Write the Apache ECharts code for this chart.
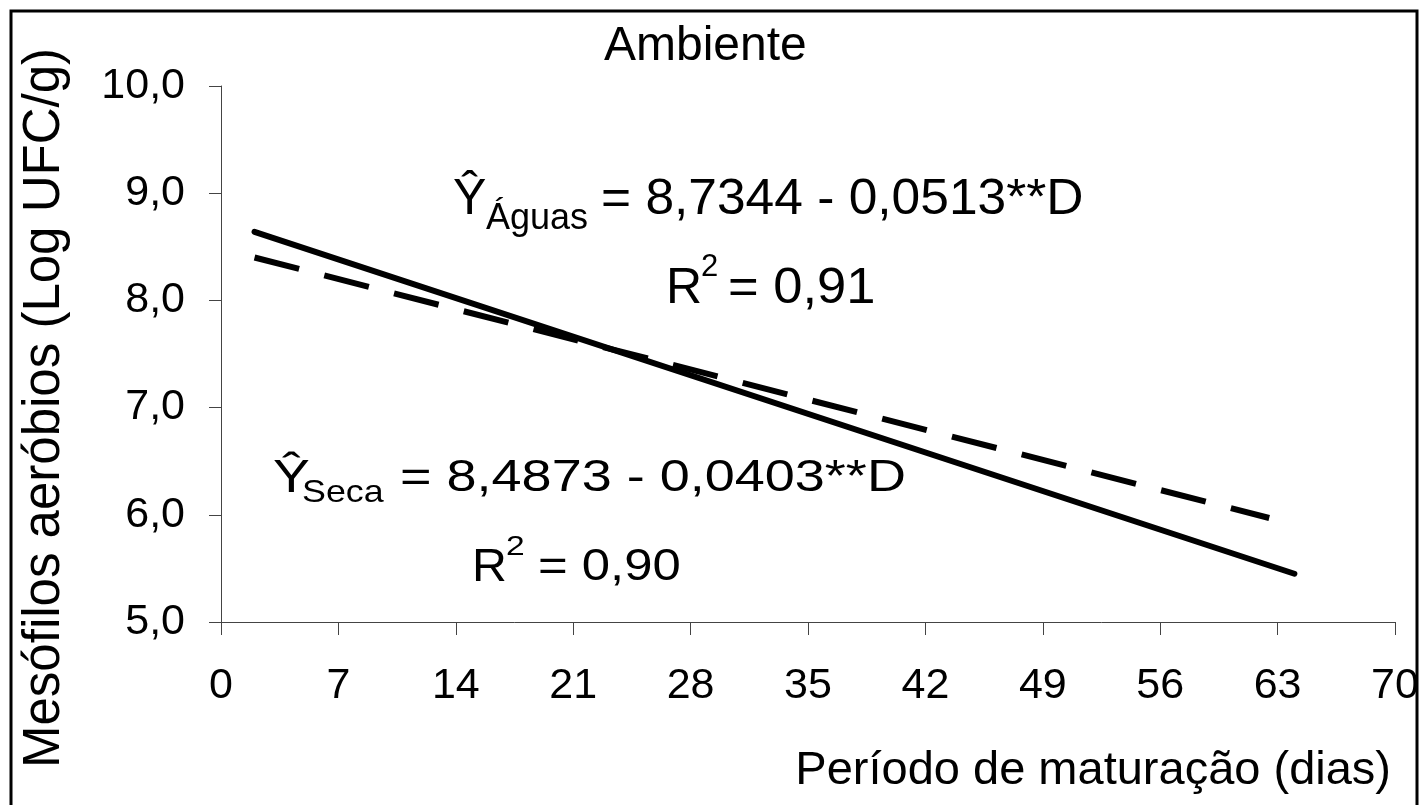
<!DOCTYPE html>
<html>
<head>
<meta charset="utf-8">
<script src="https://cdn.jsdelivr.net/npm/echarts@6/dist/echarts.min.js"></script>
<style>
html,body{margin:0;padding:0;background:#fff;}
#chart{width:1424px;height:805px;}
</style>
</head>
<body>
<div id="chart"></div>
<script>
// Data
const xTicks = [0, 7, 14, 21, 28, 35, 42, 49, 56, 63, 70];
const aguasDays = [2, 64];
const aguasValues = [8.64, 5.45];
const secaDays = [2, 62.5];
const secaValues = [8.40, 5.97];

const titleText = 'Ambiente';
const xName = 'Período de maturação (dias)';
const yName = 'Mesófilos aeróbios (Log UFC/g)';
const eqAguas = ['Ŷ', 'Águas', '= 8,7344 - 0,0513**D'];
const r2Aguas = ['R', '2', '= 0,91'];
const eqSeca = ['Ŷ', 'Seca', '= 8,4873 - 0,0403**D'];
const r2Seca = ['R', '2', '= 0,90'];

const FONT = 'Arial, "Liberation Sans", sans-serif';
const chart = echarts.init(document.getElementById('chart'), null, {renderer: 'canvas'});

function txt(x, y, text, size, opts) {
  opts = opts || {};
  return {
    type: 'text', x: x, y: y, z: 10,
    scaleX: opts.scaleX || 1,
    rotation: opts.rotation || 0,
    style: {
      text: text,
      font: size + 'px ' + FONT,
      fill: '#000',
      textAlign: opts.align || 'left',
      textVerticalAlign: 'middle'
    }
  };
}

function pair(days, vals) { return days.map((d, i) => [d, vals[i]]); }

const option = {
  backgroundColor: '#fff',
  animation: false,
  grid: {left: 221, right: 29, top: 86, bottom: 183, containLabel: false},
  xAxis: {
    type: 'value', min: 0, max: 70, interval: 7,
    axisLine: {show: true, onZero: false, lineStyle: {color: '#444', width: 1}},
    axisTick: {show: true, length: 13, lineStyle: {color: '#444', width: 1}},
    splitLine: {show: false},
    axisLabel: {fontSize: 43, fontFamily: FONT, color: '#000', margin: 43,
      formatter: v => String(v)}
  },
  yAxis: {
    type: 'value', min: 5, max: 10, interval: 1,
    axisLine: {show: true, lineStyle: {color: '#444', width: 1}},
    axisTick: {show: true, length: 12, lineStyle: {color: '#444', width: 1}},
    splitLine: {show: false},
    axisLabel: {fontSize: 43, fontFamily: FONT, color: '#000', margin: 36,
      formatter: v => v.toFixed(1).replace('.', ',')}
  },
  series: [
    {
      name: 'Águas', type: 'line', data: pair(aguasDays, aguasValues),
      showSymbol: false, symbol: 'none',
      lineStyle: {color: '#000', width: 6, type: 'solid', cap: 'round'}
    },
    {
      name: 'Seca', type: 'line', data: pair(secaDays, secaValues),
      showSymbol: false, symbol: 'none',
      lineStyle: {color: '#000', width: 6, type: [46, 26], cap: 'butt'}
    }
  ],
  graphic: [
    // outer frame
    {type: 'rect', shape: {x: 11, y: 11, width: 1406, height: 820}, z: 1,
      style: {fill: null, stroke: '#000', lineWidth: 3}},
    txt(604, 47, titleText, 48),
    {type: 'text', x: 45, y: 408, rotation: Math.PI / 2, z: 10,
      style: {text: yName, font: '51px ' + FONT, fill: '#000', textAlign: 'center', textVerticalAlign: 'middle'}},
    txt(1391, 771, xName, 47, {align: 'right'}),
    // Águas equation
    txt(453, 200, eqAguas[0], 50),
    txt(486, 219, eqAguas[1], 36),
    txt(601, 200, eqAguas[2], 50, {scaleX: 1.03}),
    txt(666, 289, r2Aguas[0], 50),
    txt(701, 267, r2Aguas[1], 31),
    txt(728, 289, r2Aguas[2], 50, {scaleX: 1.05}),
    // Seca equation
    txt(273, 479, eqSeca[0], 46, {scaleX: 1.2}),
    txt(302, 493, eqSeca[1], 32, {scaleX: 1.12}),
    txt(400, 479, eqSeca[2], 45, {scaleX: 1.2}),
    txt(472, 568, r2Seca[0], 46, {scaleX: 1.05}),
    txt(506, 547, r2Seca[1], 28, {scaleX: 1.2}),
    txt(538, 568, r2Seca[2], 45, {scaleX: 1.13})
  ]
};
chart.setOption(option);
</script>
</body>
</html>
